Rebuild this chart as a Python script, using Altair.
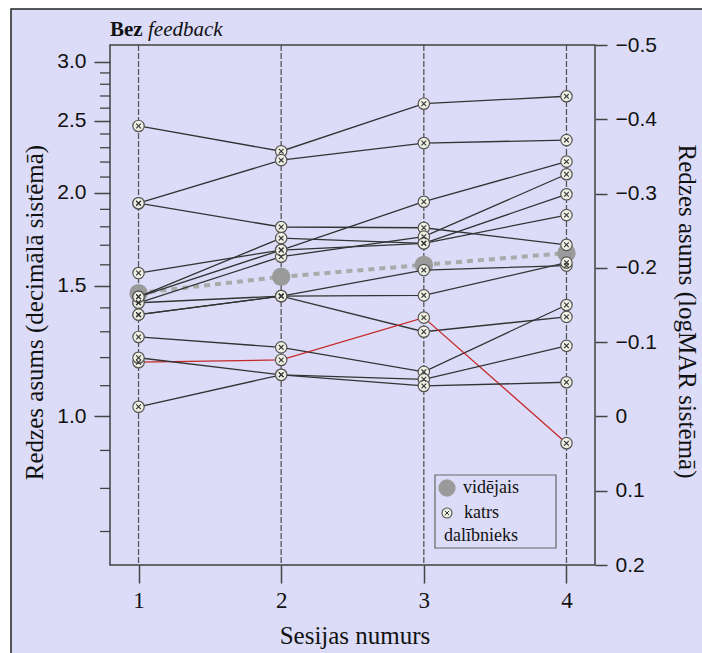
import altair as alt
import pandas as pd
import numpy as np

# ---------------- data (logMAR values) ----------------
sessions = [1, 2, 3, 4]
participants = {
    "P01": [-0.391, -0.357, -0.421, -0.431],
    "P02": [-0.287, -0.345, -0.368, -0.372],
    "P03": [-0.287, -0.255, -0.254, -0.231],
    "P04": [-0.193, -0.224, -0.289, -0.343],
    "P05": [-0.161, -0.240, -0.233, -0.271],
    "P06": [-0.153, -0.215, -0.242, -0.326],
    "P07": [-0.137, -0.162, -0.197, -0.203],
    "P08": [-0.137, -0.162, -0.163, -0.207],
    "P09": [-0.153, -0.162, -0.114, -0.134],
    "P10": [-0.107, -0.093, -0.060, -0.150],
    "P11": [-0.073, -0.076, -0.133, 0.036],
    "P12": [-0.079, -0.056, -0.050, -0.095],
    "P13": [-0.013, -0.056, -0.041, -0.046],
    "P14": [-0.161, -0.224, -0.233, -0.299],
}
highlighted = "P11"
mean_logmar = [-0.166, -0.188, -0.204, -0.220]

left_major = [1.0, 1.5, 2.0, 2.5, 3.0]
left_minor = [0.7, 0.8, 0.9, 1.1, 1.2, 1.3, 1.4, 1.6, 1.7, 1.8, 1.9,
              2.1, 2.2, 2.3, 2.4, 2.6, 2.7, 2.8, 2.9]
right_ticks = [-0.5, -0.4, -0.3, -0.2, -0.1, 0.0, 0.1, 0.2]

title_bold = "Bez"
title_italic = "feedback"
left_title = "Redzes asums (decimālā sistēmā)"
right_title = "Redzes asums (logMAR sistēmā)"
x_title = "Sesijas numurs"
legend_mean = "vidējais"
legend_each_1 = "katrs"
legend_each_2 = "dalībnieks"

# ---------------- tables ----------------
rows = []
for pid, vals in participants.items():
    for s, v in zip(sessions, vals):
        rows.append({"pid": pid, "session": s, "lm": v,
                     "grp": "red" if pid == highlighted else "black"})
df = pd.DataFrame(rows)
mean_df = pd.DataFrame({"session": sessions, "lm": mean_logmar})
sess_df = pd.DataFrame({"session": sessions})
minor_df = pd.DataFrame({"lm": -np.log10(left_minor)})
right_df = pd.DataFrame({"v": right_ticks})
one = pd.DataFrame({"k": [0]})

W, H = 485, 520
SERIF = "Times New Roman, Liberation Serif, Times, serif"
SANS = "Arial, Liberation Sans, Helvetica, sans-serif"
BG = "#dcdcf8"

xscale = alt.Scale(domain=[0.8, 4.2], nice=False, zero=False)
yscale = alt.Scale(domain=[-0.5, 0.2], reverse=True, nice=False, zero=False)

xaxis = alt.Axis(values=sessions, format="d", tickSize=18, tickColor="#444",
                 tickWidth=1.5, domain=False, grid=False,
                 labelFont=SERIF, labelFontSize=23, labelColor="#111",
                 labelPadding=6, title=x_title, titleFont=SERIF,
                 titleFontSize=25, titleFontWeight="normal", titleColor="#111",
                 titleX=W / 2 + 2, titleY=70, titleBaseline="middle", zindex=1)

yaxis_left = alt.Axis(values=list(-np.log10(left_major)),
                      labelExpr="format(pow(10, -datum.value), '.1f')",
                      tickSize=16, tickColor="#444", tickWidth=1.5,
                      domain=False, grid=False,
                      labelFont=SANS, labelFontSize=21, labelColor="#111",
                      labelPadding=8, title=left_title, titleFont=SERIF,
                      titleFontSize=25, titleFontWeight="normal",
                      titleColor="#111", titleAngle=-90, titleX=-76,
                      titleY=267, titleBaseline="middle", titleAlign="center",
                      zindex=1)

yaxis_right = alt.Axis(orient="right", values=right_ticks,
                       labelExpr="datum.value == 0 ? '0' : format(datum.value, '.1f')",
                       tickSize=12, tickColor="#444", tickWidth=1.5,
                       domain=False, grid=False,
                       labelFont=SANS, labelFontSize=21, labelColor="#111",
                       labelPadding=8, title=right_title, titleFont=SERIF,
                       titleFontSize=25, titleFontWeight="normal",
                       titleColor="#111", titleAngle=90, titleX=91,
                       titleY=266, titleBaseline="middle", titleAlign="center",
                       zindex=1)

# background frame
frame = alt.Chart(one).mark_rect(fill=BG, stroke="#222", strokeWidth=1.5).encode(
    x=alt.value(-99), x2=alt.value(W + 200), y=alt.value(-36), y2=alt.value(H + 200))

# vertical dashed session lines
vlines = alt.Chart(sess_df).mark_rule(color="#555", strokeWidth=1.3,
                                      strokeDash=[6, 2]).encode(
    x=alt.X("session:Q", scale=xscale, axis=xaxis),
    y=alt.value(0), y2=alt.value(H))

# plot box
box = alt.Chart(one).mark_rect(fill=None, stroke="#404040", strokeWidth=1.5).encode(
    x=alt.value(0), x2=alt.value(W), y=alt.value(0), y2=alt.value(H))

# minor ticks on left axis
minor = alt.Chart(minor_df).mark_rule(color="#444", strokeWidth=1.3).encode(
    y=alt.Y("lm:Q", scale=yscale, axis=yaxis_left),
    x=alt.value(-10), x2=alt.value(0))

# mean
mean_line = alt.Chart(mean_df).mark_line(color="#aaaaaa", strokeWidth=4,
                                         strokeDash=[6, 5]).encode(
    x=alt.X("session:Q", scale=xscale), y=alt.Y("lm:Q", scale=yscale))
mean_pts = alt.Chart(mean_df).mark_point(filled=True, shape="circle", size=340,
                                         color="#9a9a9a", opacity=1).encode(
    x=alt.X("session:Q", scale=xscale), y=alt.Y("lm:Q", scale=yscale))

# participants
lines = alt.Chart(df).mark_line(strokeWidth=1.3).encode(
    x=alt.X("session:Q", scale=xscale),
    y=alt.Y("lm:Q", scale=yscale),
    detail="pid:N",
    color=alt.Color("grp:N", scale=alt.Scale(domain=["black", "red"],
                                             range=["#333333", "#c62828"]),
                    legend=None))
circ = alt.Chart(df).mark_point(shape="circle", size=130, filled=True,
                                fill="#efefe4", stroke="#555", strokeWidth=1.2,
                                opacity=1).encode(
    x=alt.X("session:Q", scale=xscale), y=alt.Y("lm:Q", scale=yscale))
XPATH = "M-1,-1L1,1M-1,1L1,-1"
cross = alt.Chart(df).mark_point(shape=XPATH, size=22, filled=False,
                                 stroke="#333", strokeWidth=1.1,
                                 opacity=1).encode(
    x=alt.X("session:Q", scale=xscale), y=alt.Y("lm:Q", scale=yscale))

# title
t1 = alt.Chart(pd.DataFrame({"t": [title_bold]})).mark_text(
    font=SERIF, fontSize=21, fontWeight="bold", align="left",
    baseline="alphabetic", color="#111").encode(
    x=alt.value(0), y=alt.value(-9), text="t:N")
t2 = alt.Chart(pd.DataFrame({"t": [title_italic]})).mark_text(
    font=SERIF, fontSize=21, fontStyle="italic", align="left",
    baseline="alphabetic", color="#111").encode(
    x=alt.value(38), y=alt.value(-9), text="t:N")

# manual legend
leg_box = alt.Chart(one).mark_rect(fill=None, stroke="#666", strokeWidth=1.2).encode(
    x=alt.value(325), x2=alt.value(446), y=alt.value(430), y2=alt.value(503))
leg_mean = alt.Chart(one).mark_point(filled=True, shape="circle", size=300,
                                     color="#9a9a9a", opacity=1).encode(
    x=alt.value(337), y=alt.value(443))
leg_circ = alt.Chart(one).mark_point(shape="circle", size=100, filled=True,
                                     fill="#efefe4", stroke="#555",
                                     strokeWidth=1.1, opacity=1).encode(
    x=alt.value(337), y=alt.value(468))
leg_cross = alt.Chart(one).mark_point(shape=XPATH, size=18, filled=False,
                                      stroke="#333", strokeWidth=1.0,
                                      opacity=1).encode(
    x=alt.value(337), y=alt.value(468))
leg_txt = alt.Chart(pd.DataFrame({
    "t": [legend_mean, legend_each_1, legend_each_2],
    "px": [353, 354, 334], "py": [443, 468, 491]})).mark_text(
    font=SERIF, fontSize=18, align="left", baseline="middle", color="#111").encode(
    x=alt.X("px:Q", scale=None), y=alt.Y("py:Q", scale=None), text="t:N")

main = alt.layer(frame, vlines, minor, box, mean_line, mean_pts, lines, circ,
                 cross, t1, t2, leg_box, leg_mean, leg_circ, leg_cross, leg_txt)

right = alt.Chart(right_df).mark_point(opacity=0).encode(
    y=alt.Y("v:Q", scale=alt.Scale(domain=[-0.5, 0.2], reverse=True,
                                   nice=False, zero=False), axis=yaxis_right))

chart = alt.layer(main, right).resolve_scale(y="independent").properties(
    width=W, height=H,
    autosize=alt.AutoSizeParams(type="none"),
    padding={"left": 110, "top": 45, "right": 107, "bottom": 88},
    background="white",
).configure_view(stroke=None)

chart.save("out.html", embed_options={"renderer": "svg", "actions": False})
